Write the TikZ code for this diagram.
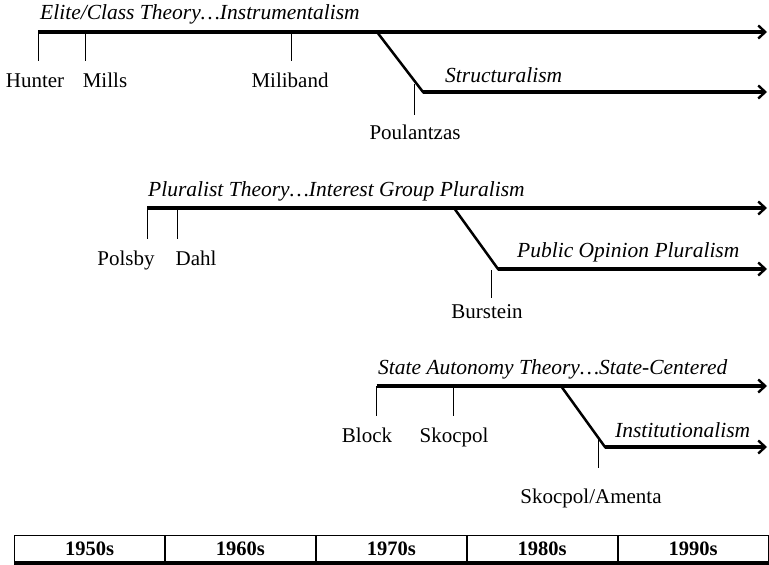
\documentclass[tikz,border=0pt]{standalone}
\usepackage{fontspec}
\setmainfont{Liberation Serif}
\usetikzlibrary{arrows.meta,positioning}

\begin{document}
\begin{tikzpicture}[x=1pt,y=-1pt,
  every node/.style={font=\fontsize{21}{25}\selectfont, inner sep=0pt},
  school/.style={font=\fontsize{21.5}{25}\selectfont\itshape, anchor=base west},
  author/.style={anchor=base},
  theory/.style={line width=3.2pt, -{Straight Barb[length=7pt,width=13pt,line width=2.4pt]}},
  split/.style={line width=2.5pt, miter limit=20},
  tick/.style={line width=0.9pt},
  decade/.style={draw, line width=0.9pt, minimum width=150pt, minimum height=27pt,
    font=\fontsize{20.5}{24}\selectfont\bfseries}]
\useasboundingbox (0,0) rectangle (769,565);
%\draw[help lines, color=gray!30, dashed] (0,0) grid[step=50] (769,565);

% elite / class theory
\coordinate (elite) at (38,32);
\coordinate (elite end) at (767,32);
\draw[theory] (elite) -- (elite end);
\node[school] (elite lbl) at (40,19) {Elite/Class Theory…Instrumentalism};
\coordinate (mills t) at (85,32);
\coordinate (miliband t) at (291,32);
\draw[tick] (elite) -- ++(0,29);
\draw[tick] (mills t) -- ++(0,29);
\draw[tick] (miliband t) -- ++(0,29);
\node[author] (hunter) at (35,87) {Hunter};
\node[author] (mills) at (105,87) {Mills};
\node[author] (miliband) at (290,87) {Miliband};
% structuralism branch
\coordinate (struct fork) at (377,32);
\coordinate (struct bend) at (423,92);
\coordinate (struct end) at (767,92);
\draw[split] (struct fork) -- (struct bend) -- ++(3,0);
\draw[theory] (struct bend) -- (struct end);
\node[school] (struct lbl) at (445,82) {Structuralism};
\coordinate (poulantzas t) at (414,84);
\draw[tick] (poulantzas t) -- ++(0,31);
\node[author] (poulantzas) at (415,139.5) {Poulantzas};

% pluralist theory
\coordinate (plural) at (147,208);
\coordinate (plural end) at (767,208);
\draw[theory] (plural) -- (plural end);
\node[school] (plural lbl) at (148,196) {Pluralist Theory…Interest Group Pluralism};
\coordinate (dahl t) at (177,208);
\draw[tick] (plural) -- ++(0,31);
\draw[tick] (dahl t) -- ++(0,31);
\node[author] (polsby) at (126,265) {Polsby};
\node[author] (dahl) at (196,265) {Dahl};
% public opinion branch
\coordinate (opinion fork) at (454,208);
\coordinate (opinion bend) at (498,269);
\coordinate (opinion end) at (767,269);
\draw[split] (opinion fork) -- (opinion bend) -- ++(3,0);
\draw[theory] (opinion bend) -- (opinion end);
\node[school] (opinion lbl) at (517,257) {Public Opinion Pluralism};
\coordinate (burstein t) at (491,270);
\draw[tick] (burstein t) -- ++(0,28);
\node[author] (burstein) at (487,318) {Burstein};

% state autonomy theory
\coordinate (state) at (376.5,386);
\coordinate (state end) at (767,386);
\draw[theory] (state) -- (state end);
\node[school] (state lbl) at (378,374) {State Autonomy Theory…State-Centered};
\coordinate (skocpol t) at (453,386);
\draw[tick] (state) -- ++(0,30);
\draw[tick] (skocpol t) -- ++(0,30);
\node[author] (block) at (367,442) {Block};
\node[author] (skocpol) at (454,442) {Skocpol};
% institutionalism branch
\coordinate (inst fork) at (561,386);
\coordinate (inst bend) at (605,447);
\coordinate (inst end) at (767,447);
\draw[split] (inst fork) -- (inst bend) -- ++(3,0);
\draw[theory] (inst bend) -- (inst end);
\node[school] (inst lbl) at (615,437) {Institutionalism};
\coordinate (amenta t) at (598,437);
\draw[tick] (amenta t) -- ++(0,31);
\node[author] (amenta) at (591,503) {Skocpol/Amenta};

% decades
\node[decade] (d1950) at (89.5,548.5) {1950s};
\node[decade, right=0pt of d1950] (d1960) {1960s};
\node[decade, right=0pt of d1960] (d1970) {1970s};
\node[decade, right=0pt of d1970] (d1980) {1980s};
\node[decade, right=0pt of d1980] (d1990) {1990s};
\draw[line width=5pt] ([yshift=-1.5pt]d1950.south west) -- ([yshift=-1.5pt]d1990.south east);
\end{tikzpicture}
\end{document}
